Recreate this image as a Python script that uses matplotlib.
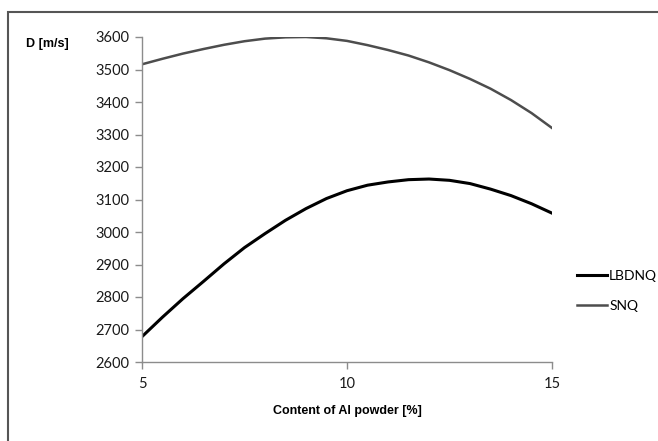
import numpy as np
import matplotlib.pyplot as plt
from matplotlib.patches import Rectangle

# Data (every 0.5 %)
al_content = [5.0, 5.5, 6.0, 6.5, 7.0, 7.5, 8.0, 8.5, 9.0, 9.5, 10.0,
              10.5, 11.0, 11.5, 12.0, 12.5, 13.0, 13.5, 14.0, 14.5, 15.0]
d_lbdnq = [2678, 2738, 2795, 2848, 2902, 2952, 2995, 3036, 3072, 3103, 3127,
           3144, 3154, 3161, 3163, 3159, 3149, 3132, 3112, 3087, 3058]
d_snq = [3516, 3533, 3549, 3563, 3576, 3587, 3595, 3599, 3600, 3596, 3588,
         3575, 3560, 3543, 3522, 3498, 3471, 3441, 3406, 3366, 3320]
y_ticks = [2600, 2700, 2800, 2900, 3000, 3100, 3200, 3300, 3400, 3500, 3600]
x_ticks = [5, 10, 15]

W, H = 658, 441
fig = plt.figure(figsize=(W / 100, H / 100), dpi=100)
ax = fig.add_axes([142 / W, 1 - 362 / H, 410 / W, 325 / H])

ax.plot(al_content, d_lbdnq, color='black', lw=2.2, label='LBDNQ',
        solid_joinstyle='round')
ax.plot(al_content, d_snq, color='#4d4d4d', lw=1.8, label='SNQ',
        solid_joinstyle='round')

ax.set_xlim(5, 15)
ax.set_ylim(2600, 3600)
ax.set_xticks(x_ticks)
ax.set_yticks(y_ticks)

for s in ['top', 'right']:
    ax.spines[s].set_visible(False)
for s in ['left', 'bottom']:
    ax.spines[s].set_color('#8c8c8c')
    ax.spines[s].set_linewidth(1.0)
ax.tick_params(color='#8c8c8c', length=5, width=1.0, direction='out')
ax.tick_params(axis='both', labelsize=10.5, labelcolor='#1a1a1a')
for lab in ax.get_xticklabels() + ax.get_yticklabels():
    lab.set_family('Lato')
ax.tick_params(axis='x', pad=6)
ax.tick_params(axis='y', pad=4)

fig.text(26 / W, 1 - 44 / H, 'D [m/s]', fontsize=9, fontweight='bold',
         family='Liberation Sans', va='center', ha='left')
fig.text(347 / W, 1 - 411 / H, 'Content of Al powder [%]', fontsize=9,
         fontweight='bold', family='Liberation Sans', va='center', ha='center')

leg = fig.legend(loc='center left', bbox_to_anchor=(564 / W, 1 - 291 / H),
                 frameon=False, handlelength=2.2, handletextpad=0.15,
                 labelspacing=1.3, prop={'family': 'Lato', 'size': 10})

# outer frame
fig.patches.append(Rectangle((8 / W, -0.05), 1.0, 1 - 12 / H + 0.05,
                             transform=fig.transFigure, fill=False,
                             edgecolor='#555555', lw=1.5))

fig.savefig('out.png', dpi=100)
